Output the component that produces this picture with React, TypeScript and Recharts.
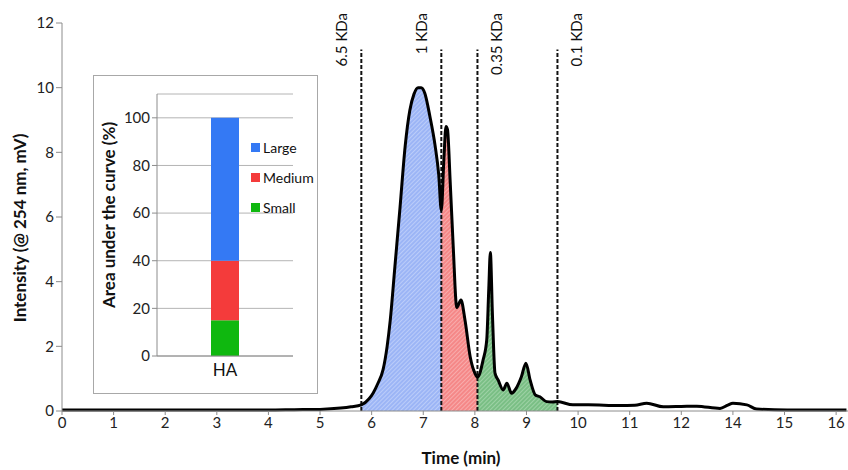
import {
  ComposedChart,
  Area,
  Line,
  XAxis,
  YAxis,
  ReferenceLine,
  BarChart,
  Bar,
  CartesianGrid,
} from "recharts";

// chromatogram
const times = [
  0, 0.5, 1, 2, 3, 4, 4.5, 5, 5.4, 5.6, 5.8, 5.95, 6.03, 6.12, 6.22, 6.3, 6.36,
  6.45, 6.55, 6.65, 6.74, 6.82, 6.9, 6.96, 7.03, 7.13, 7.23, 7.3, 7.35, 7.4,
  7.44, 7.47, 7.52, 7.58, 7.65, 7.73, 7.81, 7.91, 8.0, 8.05, 8.16, 8.23, 8.27,
  8.3, 8.34, 8.39, 8.45, 8.55, 8.62, 8.71, 8.8, 8.9, 8.99, 9.07, 9.17, 9.26,
  9.39, 9.5, 9.6, 9.9, 10.2, 10.8, 11.1, 11.33, 11.65, 12.0, 12.3, 12.75, 12.9,
  13.0, 13.27, 13.46, 14.05, 15.2,
];
const intensity = [
  0.03, 0.03, 0.03, 0.03, 0.03, 0.03, 0.04, 0.05, 0.09, 0.13, 0.19, 0.38, 0.56,
  0.85, 1.27, 2.0, 2.8, 4.46, 6.3, 8.2, 9.3, 9.8, 10.0, 10.0, 9.83, 9.1, 8.2,
  7.3, 6.2, 7.8, 8.8, 8.7, 7.15, 5.1, 3.2, 3.43, 2.8, 1.67, 1.17, 1.05, 1.58,
  2.2, 3.8, 4.9, 3.0, 1.17, 0.96, 0.65, 0.86, 0.55, 0.7, 1.05, 1.48, 0.96, 0.5,
  0.44, 0.29, 0.28, 0.29, 0.19, 0.19, 0.17, 0.18, 0.24, 0.13, 0.14, 0.15, 0.08,
  0.18, 0.24, 0.19, 0.06, 0.03, 0.03,
];

const cutoffs = [5.8, 7.35, 8.05, 9.6];
const cutoffLabels = ["6.5 KDa", "1 KDa", "0.35 KDa", "0.1 KDa"];
const cutoffTop = 11.18;

const xTicks = [0, 1, 2, 3, 4, 5, 6, 7, 8, 9, 10, 11, 12, 13, 14, 15];
const xTickLabels = ["0", "1", "2", "3", "4", "5", "6", "7", "8", "9", "10", "11", "12", "14", "15", "16"];
const yTicks = [0, 2, 4, 6, 8, 10, 12];

// inset: area under the curve (%)
const insetCategories = ["HA"];
const smallPct = [15];
const mediumPct = [25];
const largePct = [60];
const insetTicks = [0, 20, 40, 60, 80, 100];
const insetNames = ["Large", "Medium", "Small"];

const FONT = "Lato, 'Open Sans', sans-serif";
const AXIS = "#8c8c8c";

const data = times.map((t, i) => {
  const v = intensity[i];
  return {
    t,
    v,
    large: t >= cutoffs[0] && t <= cutoffs[1] ? v : null,
    medium: t >= cutoffs[1] && t <= cutoffs[2] ? v : null,
    small: t >= cutoffs[2] && t <= cutoffs[3] ? v : null,
  };
});

const insetData = insetCategories.map((name, i) => ({
  name,
  Small: smallPct[i],
  Medium: mediumPct[i],
  Large: largePct[i],
}));

const insetColors: Record<string, string> = {
  Large: "#3479f4",
  Medium: "#f43b3b",
  Small: "#0fb80f",
};

function cutoffLabel(text: string, right: boolean) {
  return (props: any) => {
    const vb = props.viewBox || {};
    const x = vb.x + (right ? 25 : -14);
    const y = 13;
    return (
      <text
        x={x}
        y={y}
        transform={`rotate(-90 ${x} ${y})`}
        textAnchor="end"
        fontSize={15}
        fontFamily={FONT}
        fill="#111"
      >
        {text}
      </text>
    );
  };
}

function Inset() {
  return (
    <div
      style={{
        position: "absolute",
        left: 93,
        top: 75,
        width: 225,
        height: 319,
        boxSizing: "border-box",
        border: "1px solid #a8a8a8",
        background: "#fff",
        overflow: "hidden",
      }}
    >
      <BarChart
        width={223}
        height={317}
        data={insetData}
        margin={{ top: 18, right: 24, left: 0, bottom: 0 }}
      >
        <CartesianGrid stroke="#b4b4b4" vertical={false} />
        <XAxis
          dataKey="name"
          height={37}
          tickLine={false}
          axisLine={{ stroke: AXIS }}
          tick={{ fontSize: 17, fill: "#111", fontFamily: FONT }}
        />
        <YAxis
          width={63}
          domain={[0, 110]}
          ticks={insetTicks}
          allowDataOverflow
          tickSize={5}
          axisLine={{ stroke: AXIS }}
          tickLine={{ stroke: AXIS }}
          tick={{ fontSize: 15, fill: "#222", fontFamily: FONT }}
          label={(props: any) => {
            const vb = props.viewBox;
            const x = 21;
            const y = vb.y + vb.height / 2 - 10;
            return (
              <text
                x={x}
                y={y}
                transform={`rotate(-90 ${x} ${y})`}
                textAnchor="middle"
                fontSize={17}
                fontWeight="bold"
                fontFamily={FONT}
                fill="#111"
              >
                Area under the curve (%)
              </text>
            );
          }}
        />
        <Bar dataKey="Small" stackId="a" fill={insetColors.Small} barSize={28} isAnimationActive={false} />
        <Bar dataKey="Medium" stackId="a" fill={insetColors.Medium} barSize={28} isAnimationActive={false} />
        <Bar dataKey="Large" stackId="a" fill={insetColors.Large} barSize={28} isAnimationActive={false} />
      </BarChart>
      <div style={{ position: "absolute", left: 157, top: 56, fontFamily: FONT, fontSize: 14, color: "#111" }}>
        {insetNames.map((n) => (
          <div key={n} style={{ display: "flex", alignItems: "center", height: 30, whiteSpace: "nowrap" }}>
            <span style={{ width: 9, height: 9, background: insetColors[n], marginRight: 3, display: "inline-block" }} />
            {n}
          </div>
        ))}
      </div>
    </div>
  );
}

export default function App() {
  return (
    <div style={{ position: "relative", width: 848, height: 470, background: "#fff", fontFamily: FONT }}>
      <style>{"body{margin:0}"}</style>
      <ComposedChart
        width={848}
        height={470}
        data={data}
        margin={{ top: 23, right: 0, left: 0, bottom: 0 }}
      >
        <defs>
          <pattern id="hBlue" width="3" height="3" patternUnits="userSpaceOnUse" patternTransform="rotate(45)">
            <rect width="3" height="3" fill="#5a84f0" />
            <line x1="0" y1="0" x2="0" y2="3" stroke="#c0d0fa" strokeWidth="1" />
          </pattern>
          <pattern id="hRed" width="3" height="3" patternUnits="userSpaceOnUse" patternTransform="rotate(45)">
            <rect width="3" height="3" fill="#ee3838" />
            <line x1="0" y1="0" x2="0" y2="3" stroke="#f8b0b0" strokeWidth="1" />
          </pattern>
          <pattern id="hGreen" width="3" height="3" patternUnits="userSpaceOnUse" patternTransform="rotate(45)">
            <rect width="3" height="3" fill="#229434" />
            <line x1="0" y1="0" x2="0" y2="3" stroke="#98d4a0" strokeWidth="1" />
          </pattern>
        </defs>
        <XAxis
          dataKey="t"
          type="number"
          domain={[0, 15.23]}
          allowDataOverflow
          ticks={xTicks}
          tickFormatter={(v: number) => xTickLabels[v]}
          height={59}
          tickSize={4}
          axisLine={{ stroke: AXIS }}
          tickLine={{ stroke: AXIS }}
          tick={{ fontSize: 15, fill: "#222", fontFamily: FONT }}
          label={(props: any) => {
            const vb = props.viewBox;
            return (
              <text
                x={vb.x + vb.width / 2 + 6}
                y={464}
                textAnchor="middle"
                fontSize={17}
                fontWeight="bold"
                fontFamily={FONT}
                fill="#111"
              >
                Time (min)
              </text>
            );
          }}
        />
        <YAxis
          domain={[0, 12]}
          ticks={yTicks}
          width={62}
          tickSize={6}
          axisLine={{ stroke: AXIS }}
          tickLine={{ stroke: AXIS }}
          tick={{ fontSize: 15, fill: "#222", fontFamily: FONT }}
          label={(props: any) => {
            const vb = props.viewBox;
            const x = 26;
            const y = vb.y + vb.height / 2 + 11;
            return (
              <text
                x={x}
                y={y}
                transform={`rotate(-90 ${x} ${y})`}
                textAnchor="middle"
                fontSize={17}
                fontWeight="bold"
                fontFamily={FONT}
                fill="#111"
              >
                Intensity (@ 254 nm, mV)
              </text>
            );
          }}
        />
        <Area type="monotone" dataKey="large" stroke="none" fill="url(#hBlue)" isAnimationActive={false} />
        <Area type="monotone" dataKey="medium" stroke="none" fill="url(#hRed)" isAnimationActive={false} />
        <Area type="monotone" dataKey="small" stroke="none" fill="url(#hGreen)" isAnimationActive={false} />
        {cutoffs.map((c, i) => (
          <ReferenceLine
            key={c}
            segment={[
              { x: c, y: 0 },
              { x: c, y: cutoffTop },
            ]}
            stroke="#111"
            strokeWidth={2}
            strokeDasharray="4 2"
            label={cutoffLabel(cutoffLabels[i], i >= 2)}
          />
        ))}
        <Line
          type="monotone"
          dataKey="v"
          stroke="#000"
          strokeWidth={3}
          dot={false}
          isAnimationActive={false}
        />
      </ComposedChart>
      <Inset />
    </div>
  );
}
